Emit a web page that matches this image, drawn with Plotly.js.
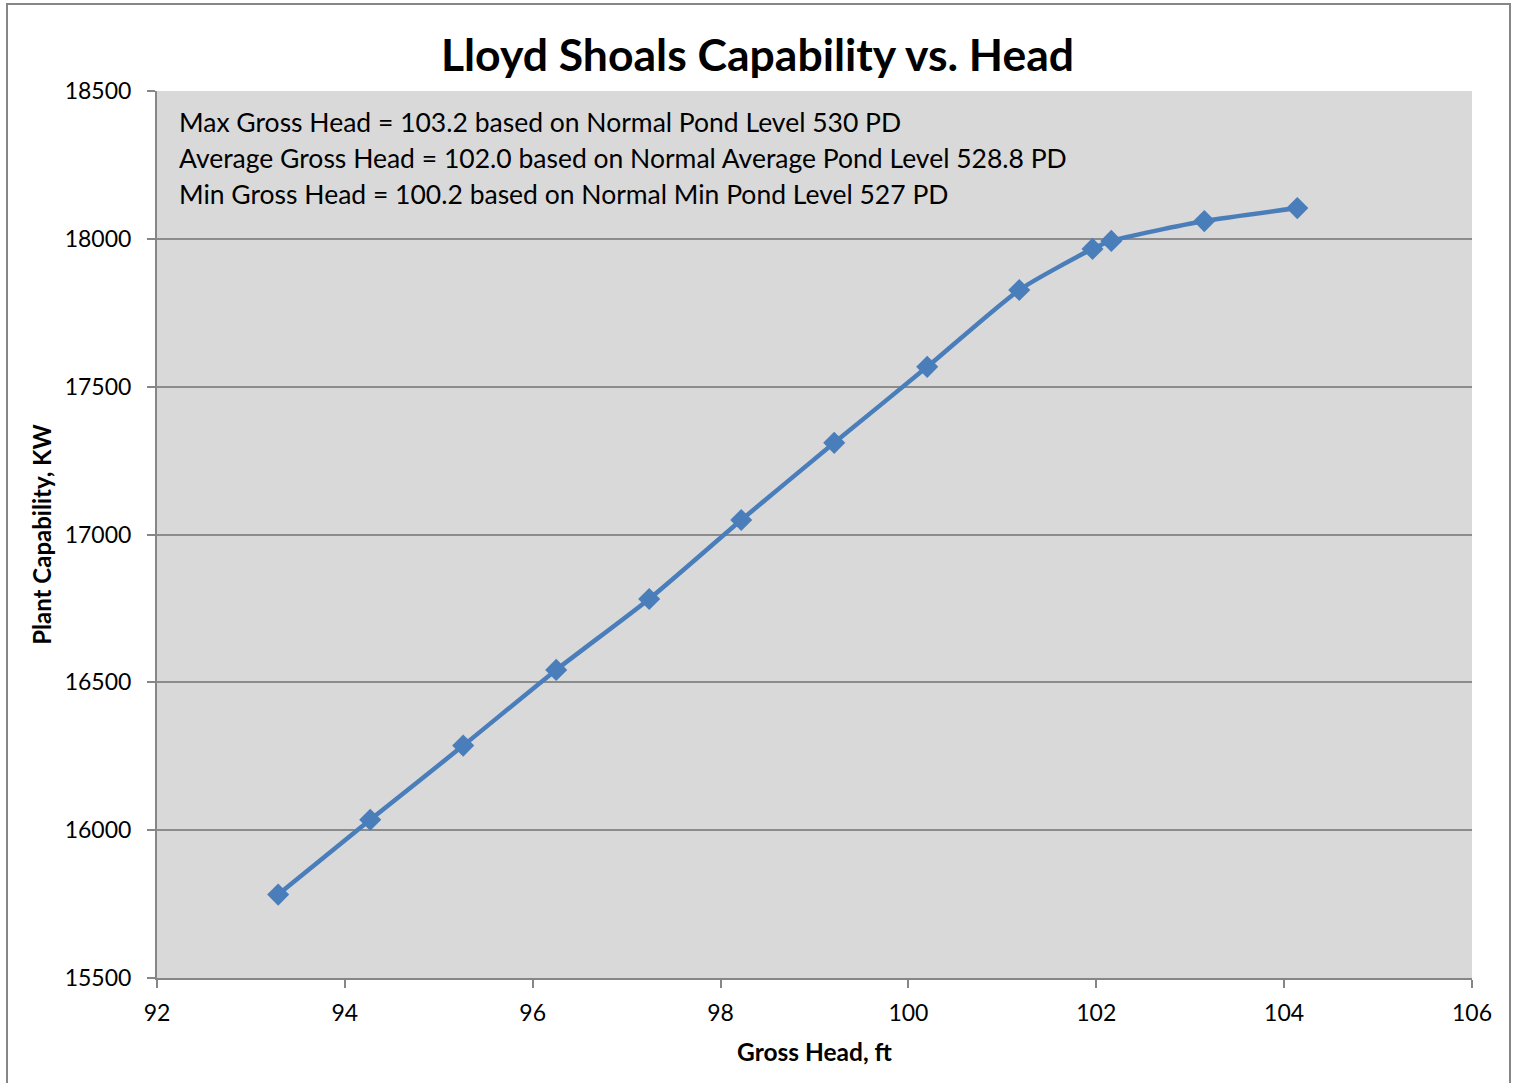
<!DOCTYPE html>
<html><head><meta charset="utf-8">
<script src="https://cdn.plot.ly/plotly-3.0.1.min.js"></script>
<style>html,body{margin:0;padding:0;background:#fff}#chart{width:1515px;height:1083px}</style>
</head><body><div id="chart"></div>
<script>
const grossHead = [93.29, 94.27, 95.26, 96.25, 97.24, 98.22, 99.21, 100.20, 101.18, 101.96, 102.16, 103.15, 104.14];
const capabilityKW = [15782, 16035, 16286, 16542, 16782, 17049, 17310, 17567, 17827, 17966, 17993, 18060, 18104];
const noteLines = [
  "Max Gross Head = 103.2 based on Normal Pond Level 530 PD",
  "Average Gross Head = 102.0 based on Normal Average Pond Level 528.8 PD",
  "Min Gross Head = 100.2 based on Normal Min Pond Level 527 PD"
];
const xTicks = [92, 94, 96, 98, 100, 102, 104, 106];
const yTicks = [15500, 16000, 16500, 17000, 17500, 18000, 18500];

const W = 1515, H = 1083, L = 157, R = 43, T = 91, B = 105;
const pw = W - L - R, ph = H - T - B;
const px = v => (v - L) / pw;
const py = v => (H - B - v) / ph;

const font = "Lato, 'Open Sans', sans-serif";
const trace = {
  x: grossHead, y: capabilityKW, type: 'scatter', mode: 'lines+markers',
  line: {color: '#4A7EBB', width: 4.5, shape: 'spline', smoothing: 0.6},
  marker: {symbol: 'diamond', size: 17, color: '#4A7EBB'},
  hoverinfo: 'skip'
};
const layout = {
  width: W, height: H,
  margin: {l: L, r: R, t: T, b: B},
  paper_bgcolor: '#ffffff', plot_bgcolor: '#D9D9D9',
  showlegend: false,
  font: {family: font, color: '#000', size: 23},
  title: {text: '<b>Lloyd Shoals Capability vs. Head</b>', font: {family: font, size: 44.5, color: '#000'}, x: 0.5, xref: 'container', y: 0.949, yref: 'container', yanchor: 'middle'},
  xaxis: {
    range: [92, 106], tickvals: xTicks, ticktext: xTicks.map(String),
    showgrid: false, zeroline: false, showline: true, linecolor: '#868686', linewidth: 2,
    ticks: 'outside', ticklen: 8, tickcolor: '#868686', tickwidth: 2,
    tickfont: {family: font, size: 23}, ticklabelstandoff: 5,
    title: {text: '<b>Gross Head, ft</b>', font: {family: font, size: 24.5}, standoff: 19}
  },
  yaxis: {
    range: [15500, 18500], tickvals: yTicks, ticktext: yTicks.map(String),
    showgrid: true, gridcolor: '#8C8C8C', gridwidth: 2, zeroline: false,
    showline: true, linecolor: '#868686', linewidth: 2,
    ticks: 'outside', ticklen: 8, tickcolor: '#868686', tickwidth: 2,
    tickfont: {family: font, size: 23}, ticklabelstandoff: 11,
    title: {text: '<b>Plant Capability, KW</b>', font: {family: font, size: 24}, standoff: 6}
  },
  annotations: noteLines.map((t, i) => ({
    text: t, xref: 'paper', yref: 'paper', x: px(177), y: py(122 + 36 * i),
    xanchor: 'left', yanchor: 'middle', showarrow: false,
    font: {family: font, size: 26.5, color: '#000'}
  })),
  shapes: [{
    type: 'rect', xref: 'paper', yref: 'paper',
    x0: px(7), x1: px(1510), y0: py(1090), y1: py(4),
    line: {color: '#868686', width: 2}, fillcolor: 'rgba(0,0,0,0)', layer: 'below'
  }]
};
Plotly.newPlot('chart', [trace], layout, {staticPlot: true});
</script></body></html>
